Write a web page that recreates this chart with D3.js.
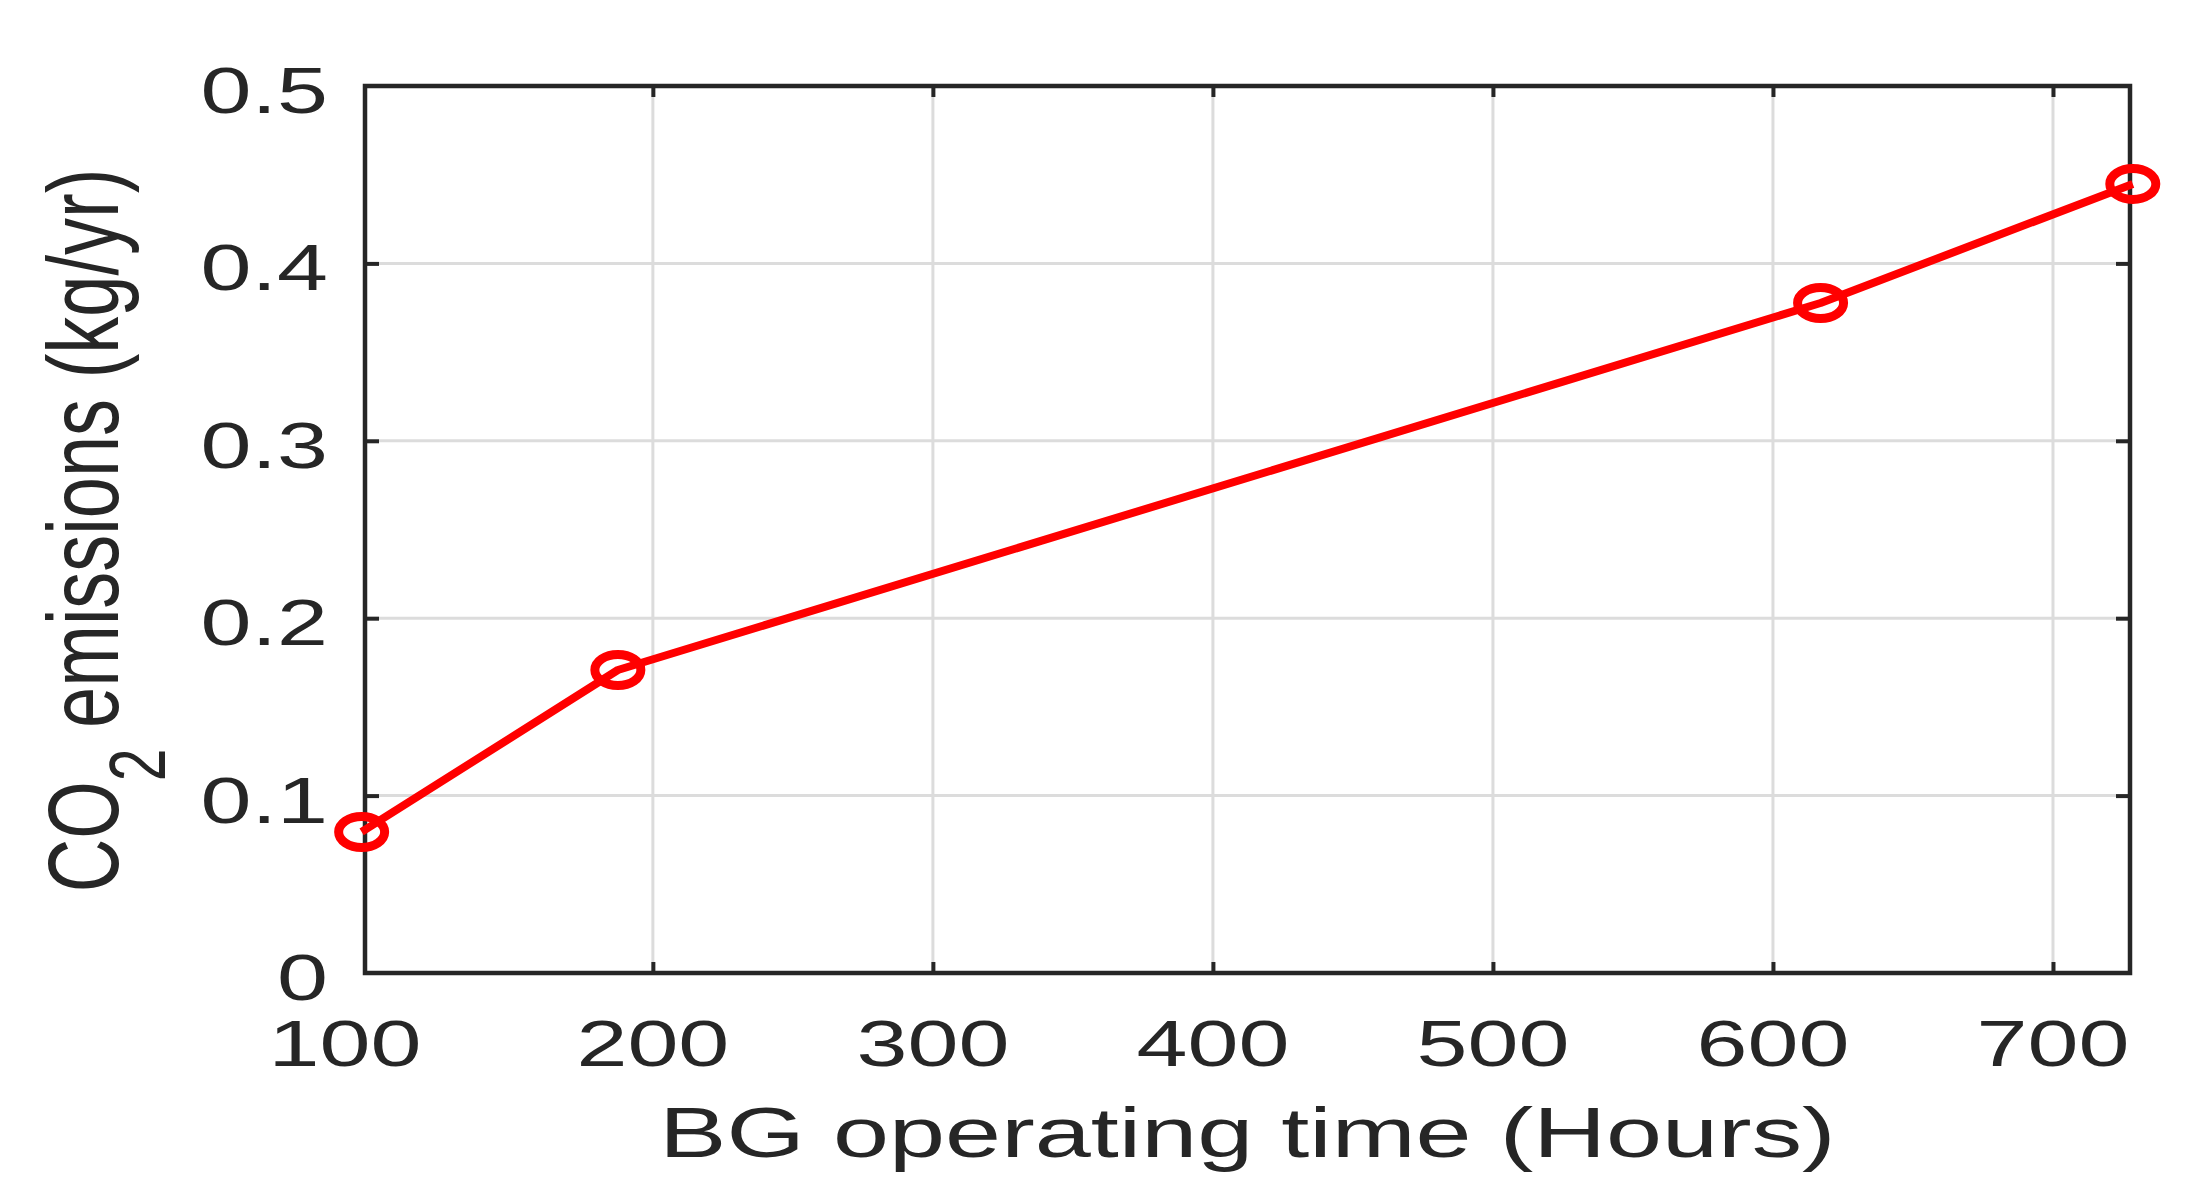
<!DOCTYPE html>
<html>
<head>
<meta charset="utf-8">
<script src="https://cdn.jsdelivr.net/npm/d3@7"></script>
<style>
  html, body { margin: 0; padding: 0; background: #fff; }
  svg { display: block; }
  text { font-family: "Liberation Sans", Arial, sans-serif; fill: #262626; }
</style>
</head>
<body>
<svg id="chart" width="2185" height="1198"></svg>
<script>
// ---- data ----
const hours = [96, 187.5, 617, 728.5];
const co2 = [0.0795, 0.1708, 0.3777, 0.4448];
const xTicks = [100, 200, 300, 400, 500, 600, 700];
const xTickLabels = ["100", "200", "300", "400", "500", "600", "700"];
const yTicks = [0, 0.1, 0.2, 0.3, 0.4, 0.5];
const yTickLabels = ["0", "0.1", "0.2", "0.3", "0.4", "0.5"];
const xTitle = "BG operating time (Hours)";

// ---- layout ----
const W = 2185, H = 1198;
const L = 365, R = 2130, T = 86, B = 973;
const SX = 1.41; // horizontal stretch of glyphs
const ink = "#262626";

const svg = d3.select("#chart");
svg.append("rect").attr("width", W).attr("height", H).attr("fill", "#fff");

const x = d3.scaleLinear().domain([97.2, 727.5]).range([L, R]);
const y = d3.scaleLinear().domain([0, 0.5]).range([B, T]);

const xIn = xTicks.filter(v => v > x.domain()[0] + 10 && v < x.domain()[1] - 10);
const yIn = yTicks.filter(v => v > 0 && v < 0.5);

// gridlines
const g = svg.append("g");
g.selectAll("line.gx").data(xIn)
  .join("line").attr("class", "gx")
  .attr("x1", d => x(d)).attr("x2", d => x(d)).attr("y1", T).attr("y2", B)
  .attr("stroke", "#dcdcdc").attr("stroke-width", 3);
g.selectAll("line.gy").data(yIn)
  .join("line").attr("class", "gy")
  .attr("y1", d => y(d)).attr("y2", d => y(d)).attr("x1", L).attr("x2", R)
  .attr("stroke", "#dcdcdc").attr("stroke-width", 3);

// ticks (inward) via d3 axes
function styleAxis(sel) {
  sel.select(".domain").remove();
  sel.selectAll(".tick line").attr("stroke", ink).attr("stroke-width", 4);
  sel.selectAll(".tick text").remove();
}
svg.append("g").attr("transform", `translate(0,${B})`)
  .call(d3.axisBottom(x).tickValues(xIn).tickSize(-11).tickFormat("")).call(styleAxis);
svg.append("g").attr("transform", `translate(0,${T})`)
  .call(d3.axisTop(x).tickValues(xIn).tickSize(-11).tickFormat("")).call(styleAxis);
svg.append("g").attr("transform", `translate(${L},0)`)
  .call(d3.axisLeft(y).tickValues(yIn).tickSize(-14).tickFormat("")).call(styleAxis);
svg.append("g").attr("transform", `translate(${R},0)`)
  .call(d3.axisRight(y).tickValues(yIn).tickSize(-14).tickFormat("")).call(styleAxis);

// axes box
svg.append("rect").attr("x", L).attr("y", T).attr("width", R - L).attr("height", B - T)
  .attr("fill", "none").attr("stroke", ink).attr("stroke-width", 4.5);

// data line
const line = d3.line().x(d => x(d[0])).y(d => y(d[1]));
const pts = hours.map((h, i) => [h, co2[i]]);
svg.append("path").datum(pts).attr("d", line)
  .attr("fill", "none").attr("stroke", "#ff0000").attr("stroke-width", 8)
  .attr("stroke-linejoin", "round");
svg.selectAll("ellipse.m").data(pts).join("ellipse").attr("class", "m")
  .attr("cx", d => x(d[0])).attr("cy", d => y(d[1]))
  .attr("rx", 23).attr("ry", 15.5)
  .attr("fill", "none").attr("stroke", "#ff0000").attr("stroke-width", 9);

// x tick labels
svg.selectAll("text.xt").data(xTicks).join("text").attr("class", "xt")
  .attr("text-anchor", "middle").attr("font-size", 65)
  .attr("transform", (d) => {
    const px = d < x.domain()[0] + 10 ? x.range()[0] - 20 : x(d);
    return `translate(${px},${B + 93}) scale(${SX},1)`;
  })
  .text((d, i) => xTickLabels[i]);

// y tick labels
svg.selectAll("text.yt").data(yTicks).join("text").attr("class", "yt")
  .attr("text-anchor", "end").attr("font-size", 65)
  .attr("transform", d => `translate(${L - 37},${y(d) + 27}) scale(${SX},1)`)
  .text((d, i) => yTickLabels[i]);

// x title
svg.append("text").attr("text-anchor", "middle").attr("font-size", 70)
  .attr("transform", `translate(${(L + R) / 2},1157) scale(1.44,1)`)
  .text(xTitle);

// y title with subscript
const yt = svg.append("text").attr("text-anchor", "middle").attr("font-size", 74)
  .attr("transform", `translate(118,${(T + B) / 2 + 1}) scale(1.36,1) rotate(-90)`);
yt.append("tspan").text("CO");
yt.append("tspan").attr("font-size", 59).attr("dy", 34.5).text("2");
yt.append("tspan").attr("dy", -34.5).text(" emissions (kg/yr)");
</script>
</body>
</html>
